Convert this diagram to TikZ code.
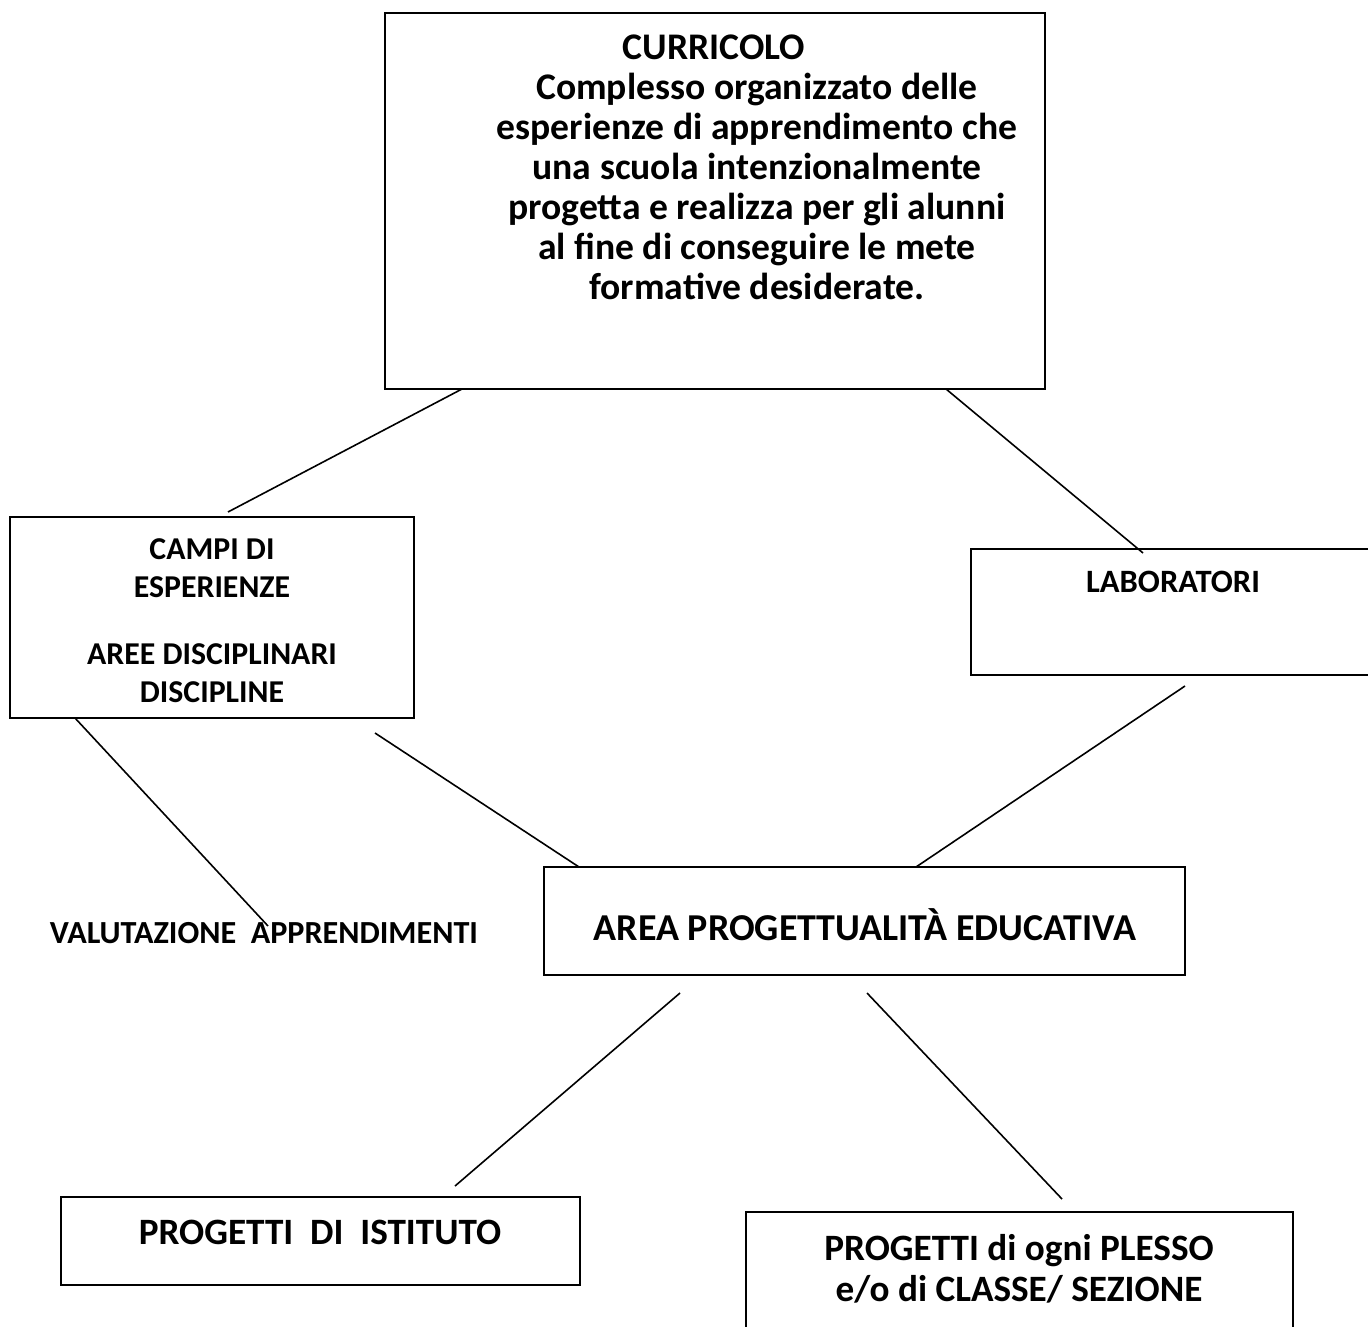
\documentclass[tikz,border=0pt]{standalone}
\usepackage{fontspec}
\setmainfont{Carlito}
\usetikzlibrary{fit}
\tikzset{
  box/.style={draw, line width=1pt, inner sep=0pt},
  txt/.style={font=\bfseries, align=center, inner sep=0pt},
  link/.style={line width=0.8pt},
}
\begin{document}
\begin{tikzpicture}[x=0.5pt,y=-0.5pt]
\useasboundingbox (0,0) rectangle (1368,1326);
% Boxes
\node[box, fit={(385,13) (1045,389)}] (curricolo) {};
\node[box, fit={(10,517) (414,718)}] (campi) {};
\node[box, fit={(971,549) (1380,675)}] (lab) {};
\node[box, fit={(544,867) (1185,975)}] (area) {};
\node[box, fit={(61,1197) (580,1285)}] (istituto) {};
\node[box, fit={(746,1212) (1293,1340)}] (plesso) {};
% Texts
\node[txt, font=\fontsize{18.8}{20}\bfseries] (curtext) at (757,167) {CURRICOLO\hspace*{43pt}\\ Complesso organizzato delle\\ esperienze di apprendimento che\\ una scuola intenzionalmente\\ progetta e realizza per gli alunni\\ al fine di conseguire le mete\\ formative desiderate.};
\node[txt, font=\fontsize{15.9}{19}\bfseries] (campitext) at (212,621) {CAMPI DI\\ ESPERIENZE\\[14.5pt] AREE DISCIPLINARI\\ DISCIPLINE};
\node[txt, font=\fontsize{16.3}{19}\bfseries] (labtext) at (1173,582) {LABORATORI};
\node[txt, font=\fontsize{19}{22}\bfseries] (areatext) at (865,925) {AREA PROGETTUALITÀ EDUCATIVA};
\node[txt, font=\fontsize{16.1}{19}\bfseries] (valutazione) at (264,933) {VALUTAZIONE\ \ APPRENDIMENTI};
\node[txt, font=\fontsize{18.6}{21}\bfseries] (istitutotext) at (320,1232) {PROGETTI\ \ DI\ \ ISTITUTO};
\node[txt, font=\fontsize{18.6}{20.5}\bfseries] (plessotext) at (1019,1269) {PROGETTI di ogni PLESSO\\ e/o di CLASSE/ SEZIONE};
% Connector ends
\coordinate (c1a) at (462,389);  \coordinate (c1b) at (228,512);
\coordinate (c2a) at (946,389);  \coordinate (c2b) at (1143,553);
\coordinate (c3a) at (75,718);   \coordinate (c3b) at (268,926);
\coordinate (c4a) at (375,733);  \coordinate (c4b) at (579,867);
\coordinate (c5a) at (1185,686); \coordinate (c5b) at (916,867);
\coordinate (c6a) at (680,993);  \coordinate (c6b) at (455,1186);
\coordinate (c7a) at (867,993);  \coordinate (c7b) at (1062,1199);
% Connectors
\draw[link] (c1a) -- (c1b);
\draw[link] (c2a) -- (c2b);
\draw[link] (c3a) -- (c3b);
\draw[link] (c4a) -- (c4b);
\draw[link] (c5a) -- (c5b);
\draw[link] (c6a) -- (c6b);
\draw[link] (c7a) -- (c7b);
\end{tikzpicture}
\end{document}
